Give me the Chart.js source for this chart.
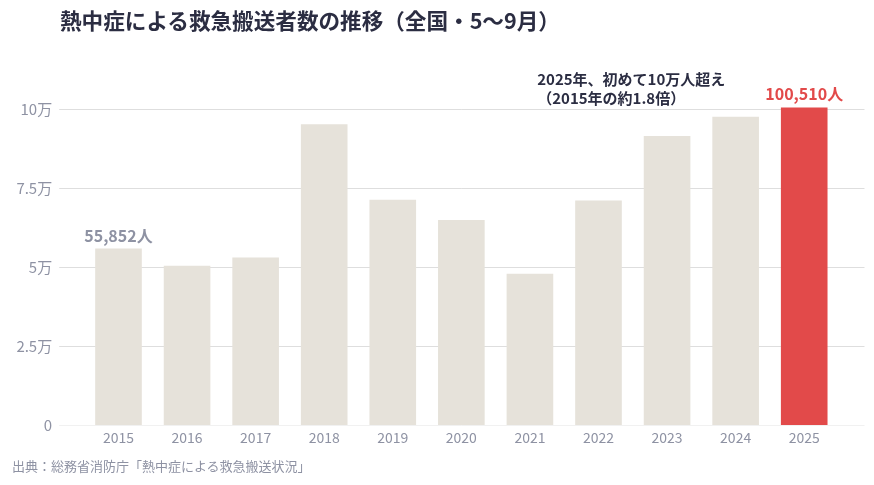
<!DOCTYPE html>
<html><head><meta charset="utf-8">
<script src="https://cdn.jsdelivr.net/npm/chart.js@4/dist/chart.umd.min.js"></script>
<style>
html,body{margin:0;padding:0;background:#fff;}
#wrap{position:relative;width:874px;height:485px;overflow:hidden;}
#title{position:absolute;left:60px;top:5px;font:bold 21.6px "Noto Sans CJK JP";line-height:30px;color:#2b2d42;white-space:nowrap;}
#src{position:absolute;left:12px;top:457px;font:13px "Noto Sans CJK JP";line-height:18px;color:#8e92a3;white-space:nowrap;}
canvas{position:absolute;left:0;top:0;}
</style></head><body>
<div id="wrap">
<canvas id="c" width="874" height="485"></canvas>
<div id="title">熱中症による救急搬送者数の推移（全国・5〜9月）</div>
<div id="src">出典：総務省消防庁「熱中症による救急搬送状況」</div>
</div>
<script>
const years = ['2015','2016','2017','2018','2019','2020','2021','2022','2023','2024','2025'];
const transports = [55852, 50412, 52984, 95137, 71317, 64869, 47877, 71029, 91467, 97578, 100510];
const yTickValues = [0, 25000, 50000, 75000, 100000];
const annotationLines = ['2025年、初めて10万人超え', '（2015年の約1.8倍）'];

const FONT = '"Noto Sans CJK JP", "Noto Sans", sans-serif';
const BEIGE = '#e6e2da', RED = '#e24a4a', GRAY = '#8e92a3', DARK = '#2b2d42';

const gridPlugin = {
  id: 'customGrid',
  beforeDatasetsDraw(chart) {
    const y = chart.scales.y, ctx = chart.ctx, a = chart.chartArea;
    ctx.save();
    yTickValues.forEach(v => {
      const py = Math.round(y.getPixelForValue(v)) + 0.5;
      ctx.strokeStyle = v === 0 ? '#f1f1f1' : '#dedede';
      ctx.lineWidth = 1;
      ctx.beginPath();
      ctx.moveTo(a.left - 25, py);
      ctx.lineTo(a.right + 26, py);
      ctx.stroke();
    });
    ctx.restore();
  }
};

const labelPlugin = {
  id: 'labels',
  afterDatasetsDraw(chart) {
    const ctx = chart.ctx;
    const meta = chart.getDatasetMeta(0);
    const first = meta.data[0], last = meta.data[meta.data.length - 1];
    ctx.save();
    ctx.textAlign = 'center';
    ctx.textBaseline = 'middle';
    ctx.font = 'bold 16px ' + FONT;
    ctx.fillStyle = GRAY;
    ctx.fillText(transports[0].toLocaleString('en-US') + '人', first.x, first.y - 13);
    ctx.font = 'bold 16px ' + FONT;
    ctx.fillStyle = RED;
    ctx.fillText(transports[transports.length - 1].toLocaleString('en-US') + '人', last.x, last.y - 13);
    ctx.textAlign = 'left';
    ctx.font = 'bold 15px ' + FONT;
    ctx.fillStyle = DARK;
    ctx.fillText(annotationLines[0], last.x - 267, 79);
    ctx.fillText(annotationLines[1], last.x - 267, 98);
    ctx.restore();
  }
};

new Chart(document.getElementById('c'), {
  type: 'bar',
  data: {
    labels: years,
    datasets: [{
      data: transports,
      backgroundColor: transports.map((v, i) => i === transports.length - 1 ? RED : BEIGE),
      borderWidth: 0,
      barPercentage: 0.68,
      categoryPercentage: 1.0
    }]
  },
  options: {
    responsive: false,
    animation: false,
    devicePixelRatio: 1,
    layout: { padding: { top: 77.4, right: 35.5, bottom: 0, left: 0 } },
    plugins: { legend: { display: false }, tooltip: { enabled: false }, title: { display: false } },
    scales: {
      x: {
        grid: { display: false, drawTicks: false, tickLength: 0 },
        border: { display: false },
        ticks: { color: GRAY, font: { family: FONT, size: 14 }, padding: 4, maxRotation: 0 },
        afterFit(s) { s.height = 60; }
      },
      y: {
        min: 0, max: 110000,
        grid: { display: false, drawTicks: false, tickLength: 0 },
        border: { display: false },
        afterBuildTicks(s) { s.ticks = yTickValues.map(v => ({ value: v })); },
        ticks: {
          color: GRAY, font: { family: FONT, size: 15 }, padding: 32,
          callback: v => v === 0 ? '0' : (v / 10000) + '万'
        },
        afterFit(s) { s.width = 84.2; }
      }
    }
  },
  plugins: [gridPlugin, labelPlugin]
});
</script>
</body></html>
